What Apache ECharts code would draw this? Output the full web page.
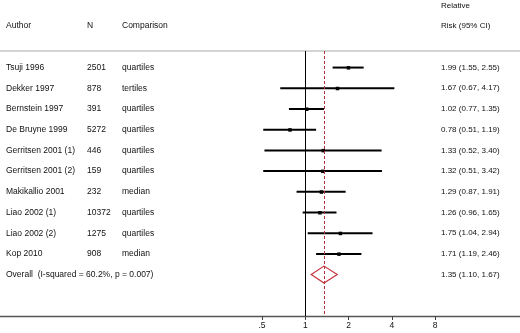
<!DOCTYPE html>
<html>
<head>
<meta charset="utf-8">
<script src="https://cdn.jsdelivr.net/npm/echarts@6/dist/echarts.min.js"></script>
<style>
html, body { margin: 0; padding: 0; background: #fff; }
#chart { width: 520px; height: 333px; }
</style>
</head>
<body>
<div id="chart"></div>
<script>
// study rows
var authors = ['Tsuji 1996', 'Dekker 1997', 'Bernstein 1997', 'De Bruyne 1999', 'Gerritsen 2001 (1)',
    'Gerritsen 2001 (2)', 'Makikallio 2001', 'Liao 2002 (1)', 'Liao 2002 (2)', 'Kop 2010'];
var sizes = ['2501', '878', '391', '5272', '446', '159', '232', '10372', '1275', '908'];
var comparisons = ['quartiles', 'tertiles', 'quartiles', 'quartiles', 'quartiles', 'quartiles',
    'median', 'quartiles', 'quartiles', 'median'];
var rr = [1.99, 1.67, 1.02, 0.78, 1.33, 1.32, 1.29, 1.26, 1.75, 1.71];
var lower = [1.55, 0.67, 0.77, 0.51, 0.52, 0.51, 0.87, 0.96, 1.04, 1.19];
var upper = [2.55, 4.17, 1.35, 1.19, 3.40, 3.42, 1.91, 1.65, 2.94, 2.46];
var rrText = ['1.99 (1.55, 2.55)', '1.67 (0.67, 4.17)', '1.02 (0.77, 1.35)', '0.78 (0.51, 1.19)',
    '1.33 (0.52, 3.40)', '1.32 (0.51, 3.42)', '1.29 (0.87, 1.91)', '1.26 (0.96, 1.65)',
    '1.75 (1.04, 2.94)', '1.71 (1.19, 2.46)'];

// pooled estimate
var overallLabel = 'Overall  (I-squared = 60.2%, p = 0.007)';
var overall = [1.35, 1.10, 1.67];
var overallText = '1.35 (1.10, 1.67)';

var headers = ['Author', 'N', 'Comparison'];
var rrHeader = ['Relative', 'Risk (95% CI)'];
var tickLabels = { 0.5: '.5', 1: '1', 2: '2', 4: '4', 8: '8' };

var FONT = '"Liberation Sans", Arial, sans-serif';
var TXT = '#111';
var colX = [6, 87, 122];
var rrX = 441;

var chart = echarts.init(document.getElementById('chart'), null, { renderer: 'canvas' });

var studyData = [];
for (var i = 0; i < rr.length; i++) {
    studyData.push([rr[i], i, lower[i], upper[i]]);
}

function txt(x, y, s, size) {
    return {
        type: 'text',
        style: { x: x, y: y, text: s, fill: TXT, font: (size || 8.5) + 'px ' + FONT, textVerticalAlign: 'middle' }
    };
}

var option = {
    animation: false,
    grid: { left: 262, right: 85, top: 51, bottom: 17 },
    xAxis: {
        type: 'log',
        logBase: 2,
        min: 0.5,
        max: 8,
        axisLine: { show: false, onZero: false },
        axisTick: { show: true, length: 4, lineStyle: { color: '#444', width: 1 } },
        splitLine: { show: false },
        axisLabel: {
            margin: 5,
            color: TXT,
            fontSize: 8.5,
            fontFamily: FONT,
            formatter: function (v) {
                var k = Math.round(v * 100) / 100;
                return tickLabels[k] || '';
            }
        }
    },
    yAxis: {
        type: 'value',
        inverse: true,
        min: -0.8,
        max: 12,
        show: false
    },
    graphic: [
        { type: 'line', shape: { x1: 0, y1: 51, x2: 520, y2: 51 }, style: { stroke: '#d4d4d4', lineWidth: 2 } },
        { type: 'line', shape: { x1: 0, y1: 316.5, x2: 520, y2: 316.5 }, style: { stroke: '#555', lineWidth: 1.5 } },
        txt(colX[0], 26, headers[0]),
        txt(colX[1], 26, headers[1]),
        txt(colX[2], 26, headers[2]),
        txt(rrX, 6, rrHeader[0], 8),
        txt(rrX, 26, rrHeader[1], 8)
    ],
    series: [
        {
            type: 'custom',
            name: 'studies',
            data: studyData,
            encode: { x: [0, 2, 3], y: 1 },
            renderItem: function (params, api) {
                var idx = params.dataIndex;
                var row = api.value(1);
                var p = api.coord([api.value(0), row]);
                var a = api.coord([api.value(2), row]);
                var b = api.coord([api.value(3), row]);
                return {
                    type: 'group',
                    children: [
                        { type: 'line', shape: { x1: a[0], y1: p[1], x2: b[0], y2: p[1] },
                          style: { stroke: '#000', lineWidth: 2 } },
                        { type: 'rect', shape: { x: p[0] - 1.5, y: p[1] - 1.5, width: 3.5, height: 3.5 },
                          style: { fill: '#000' } },
                        txt(colX[0], p[1], authors[idx]),
                        txt(colX[1], p[1], sizes[idx]),
                        txt(colX[2], p[1], comparisons[idx]),
                        txt(rrX, p[1], rrText[idx], 8)
                    ]
                };
            },
            markLine: {
                silent: true,
                symbol: 'none',
                label: { show: false },
                data: [
                    { xAxis: 1, lineStyle: { color: '#000', width: 1, type: 'solid' } },
                    { xAxis: overall[0], lineStyle: { color: '#b0303c', width: 1, type: [3, 2] } }
                ]
            }
        },
        {
            type: 'custom',
            name: 'overall',
            data: [[overall[0], rr.length, overall[1], overall[2]]],
            encode: { x: [0, 2, 3], y: 1 },
            renderItem: function (params, api) {
                var row = api.value(1);
                var c = api.coord([api.value(0), row]);
                var l = api.coord([api.value(2), row]);
                var r = api.coord([api.value(3), row]);
                var h = 8.5;
                return {
                    type: 'group',
                    children: [
                        { type: 'polygon', shape: { points: [[l[0], c[1]], [c[0], c[1] - h], [r[0], c[1]], [c[0], c[1] + h]] },
                          style: { fill: 'none', stroke: '#c8323c', lineWidth: 1.2 } },
                        txt(colX[0], c[1], overallLabel),
                        txt(rrX, c[1], overallText, 8)
                    ]
                };
            }
        }
    ]
};

chart.setOption(option);
</script>
</body>
</html>
